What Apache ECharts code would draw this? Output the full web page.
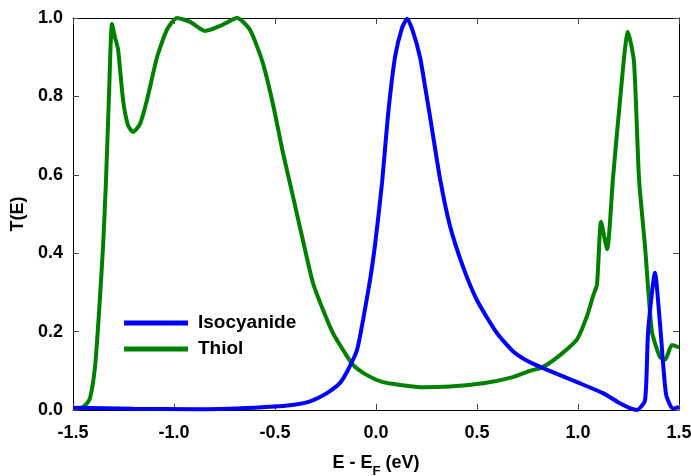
<!DOCTYPE html>
<html>
<head>
<meta charset="utf-8">
<script src="https://cdn.jsdelivr.net/npm/echarts@6/dist/echarts.min.js"></script>
<style>
html,body{margin:0;padding:0;background:#fff;}
#chart{width:691px;height:476px;}
</style>
</head>
<body>
<div id="chart"></div>
<script>
const seriesNames = ['Isocyanide', 'Thiol'];
const xTicks = [-1.5, -1.0, -0.5, 0.0, 0.5, 1.0, 1.5];
const yTicks = [0.0, 0.2, 0.4, 0.6, 0.8, 1.0];

const isoE = [-1.5, -1.2, -0.9, -0.6, -0.426, -0.327, -0.243, -0.178, -0.139, -0.094, -0.064, -0.03, -0.005, 0.03, 0.059, 0.094, 0.129, 0.155, 0.183, 0.218, 0.243, 0.267, 0.317, 0.366, 0.431, 0.5, 0.599, 0.678, 0.75, 0.827, 0.995, 1.124, 1.198, 1.257, 1.292, 1.332, 1.347, 1.381, 1.406, 1.436, 1.47, 1.5];
const isoT = [0.006, 0.003, 0.002, 0.006, 0.012, 0.022, 0.043, 0.069, 0.102, 0.153, 0.23, 0.33, 0.42, 0.58, 0.75, 0.9, 0.975, 0.998, 0.965, 0.9, 0.825, 0.75, 0.59, 0.47, 0.365, 0.28, 0.196, 0.15, 0.125, 0.107, 0.071, 0.043, 0.02, 0.005, 0.0, 0.025, 0.2, 0.35, 0.22, 0.04, 0.003, 0.008];

const thiolE = [-1.5, -1.465, -1.44, -1.416, -1.391, -1.371, -1.351, -1.337, -1.322, -1.307, -1.292, -1.277, -1.252, -1.228, -1.203, -1.168, -1.134, -1.084, -1.035, -0.985, -0.92, -0.847, -0.77, -0.688, -0.624, -0.56, -0.51, -0.46, -0.411, -0.351, -0.312, -0.262, -0.213, -0.163, -0.114, -0.045, 0.035, 0.119, 0.233, 0.366, 0.53, 0.678, 0.762, 0.827, 0.911, 0.995, 1.045, 1.074, 1.094, 1.114, 1.144, 1.173, 1.208, 1.247, 1.277, 1.302, 1.332, 1.366, 1.406, 1.431, 1.465, 1.5];
const thiolT = [0.005, 0.005, 0.012, 0.03, 0.11, 0.25, 0.42, 0.58, 0.8, 0.985, 0.95, 0.92, 0.79, 0.727, 0.709, 0.73, 0.79, 0.9, 0.97, 1.0, 0.99, 0.967, 0.98, 1.0, 0.97, 0.885, 0.78, 0.655, 0.545, 0.408, 0.324, 0.255, 0.196, 0.153, 0.115, 0.089, 0.071, 0.064, 0.058, 0.06, 0.068, 0.084, 0.1, 0.11, 0.14, 0.18, 0.24, 0.29, 0.32, 0.48, 0.41, 0.59, 0.79, 0.965, 0.89, 0.59, 0.416, 0.2, 0.135, 0.128, 0.166, 0.16];

const FONT = "'Liberation Sans', Arial, sans-serif";
const pairs = (xs, ys) => xs.map((x, i) => [x, ys[i]]);

const chart = echarts.init(document.getElementById('chart'), null, {renderer: 'canvas'});
const labelStyle = {fontFamily: FONT, fontWeight: 'bold', fontSize: 18, color: '#000'};
const axisLine = {show: true, onZero: false, lineStyle: {color: '#000', width: 1}};
const axisTick = {show: true, inside: true, length: 6, lineStyle: {color: '#444', width: 1}};

chart.setOption({
  animation: false,
  backgroundColor: '#fff',
  grid: {left: 73, right: 12, top: 18, bottom: 66, containLabel: false, outerBoundsMode: 'none'},
  legend: {
    data: seriesNames,
    orient: 'vertical',
    left: 124, top: 313,
    padding: 0,
    itemGap: 6,
    itemWidth: 64, itemHeight: 5,
    icon: 'rect',
    textStyle: {fontFamily: FONT, fontWeight: 'bold', fontSize: 19, color: '#000', lineHeight: 20, padding: [0, 0, 0, 5]}
  },
  xAxis: [{
    type: 'value', min: xTicks[0], max: xTicks[xTicks.length - 1], interval: 0.5,
    axisLine, axisTick, splitLine: {show: false},
    axisLabel: Object.assign({}, labelStyle, {margin: 14, formatter: v => v.toFixed(1)}),
    name: '{a|E - E}{s|F}{a| (eV)}',
    nameLocation: 'middle', nameGap: 44,
    nameTextStyle: {
      rich: {
        a: {fontFamily: FONT, fontWeight: 'bold', fontSize: 18, color: '#000', verticalAlign: 'bottom', padding: [0, 0, 6, 0]},
        s: {fontFamily: FONT, fontWeight: 'bold', fontSize: 13, color: '#000', verticalAlign: 'bottom'}
      }
    }
  }, {
    type: 'value', position: 'top', min: xTicks[0], max: xTicks[xTicks.length - 1], interval: 0.5,
    axisLine, axisTick, axisLabel: {show: false}, splitLine: {show: false}
  }],
  yAxis: [{
    type: 'value', min: yTicks[0], max: yTicks[yTicks.length - 1], interval: 0.2,
    axisLine, axisTick, splitLine: {show: false},
    axisLabel: Object.assign({}, labelStyle, {margin: 10, formatter: v => v.toFixed(1)}),
    name: 'T(E)', nameLocation: 'middle', nameGap: 42, nameRotate: 90,
    nameTextStyle: {fontFamily: FONT, fontWeight: 'bold', fontSize: 18, color: '#000'}
  }, {
    type: 'value', position: 'right', min: yTicks[0], max: yTicks[yTicks.length - 1], interval: 0.2,
    axisLine, axisTick, axisLabel: {show: false}, splitLine: {show: false}
  }],
  series: [{
    name: seriesNames[0], type: 'line', data: pairs(isoE, isoT),
    showSymbol: false, symbol: 'none', smooth: 0.2,
    lineStyle: {color: '#0000ff', width: 4}, itemStyle: {color: '#0000ff'}, z: 3
  }, {
    name: seriesNames[1], type: 'line', data: pairs(thiolE, thiolT),
    showSymbol: false, symbol: 'none', smooth: 0.2,
    lineStyle: {color: '#008000', width: 4}, itemStyle: {color: '#008000'}, z: 2
  }]
});
</script>
</body>
</html>
